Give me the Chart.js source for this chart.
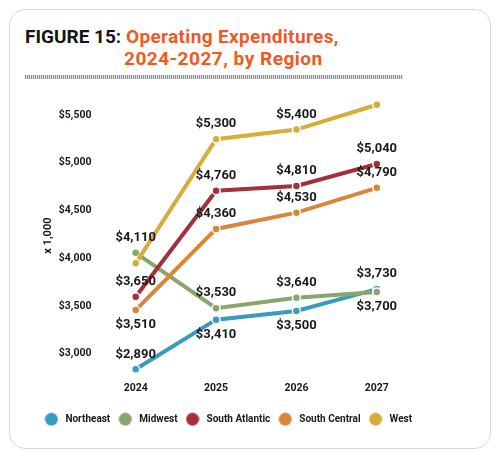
<!DOCTYPE html>
<html>
<head>
<meta charset="utf-8">
<script src="https://cdn.jsdelivr.net/npm/chart.js@4"></script>
<style>
  body { margin: 0; background: #fff; }
  #wrap { position: relative; width: 500px; height: 459px; overflow: hidden; }
  #card { position: absolute; left: 9px; top: 9px; width: 480px; height: 438px;
          border: 1px solid #d9d9d9; border-radius: 16px; }
  #title { position: absolute; left: 25px; top: 26px; font-family: Roboto, sans-serif;
           font-weight: 700; font-size: 19px; line-height: 22px; }
  #title .fig { color: #141414; }
  #title .or { color: #ef5a24; letter-spacing: 0.35px; }
  #title .l2 { color: #ef5a24; padding-left: 99px; letter-spacing: 0.5px; }
  #rule { position: absolute; left: 25px; top: 75px; width: 378px; height: 4px;
          background: repeating-linear-gradient(90deg, #8f8f8f 0 1px, #e2e2e2 1px 2px); }
  #chart { position: absolute; left: 0; top: 0; }
</style>
</head>
<body>
<div id="wrap">
  <div id="card"></div>
  <div id="title">
    <div class="l1"><span class="fig">FIGURE 15:</span> <span class="or">Operating Expenditures,</span></div>
    <div class="l2">2024-2027, by Region</div>
  </div>
  <div id="rule"></div>
  <canvas id="chart" width="500" height="459"></canvas>
</div>
<script>
var years = ["2024", "2025", "2026", "2027"];
var regions = ["Northeast", "Midwest", "South Atlantic", "South Central", "West"];
var colors = ["#3a9bc1", "#86a66b", "#a3303c", "#d8863a", "#d6ad3b"];

// values in $ thousands
var northeast = [2890, 3410, 3500, 3730];
var midwest = [4110, 3530, 3640, 3700];
var southAtlantic = [3650, 4760, 4810, 5040];
var southCentral = [3510, 4360, 4530, 4790];
var west = [4000, 5300, 5400, 5660];

var yTicks = [3000, 3500, 4000, 4500, 5000, 5500];

// where each value label sits: 'a' above, 'b' below, null = no label
var labelSide = [
  ['a', 'b', 'b', 'a'],
  ['a', 'a', 'a', 'b'],
  ['a', 'a', 'a', 'a'],
  ['b', 'a', 'a', 'a'],
  [null, 'a', 'a', null]
];

var series = [northeast, midwest, southAtlantic, southCentral, west];

function money(v) {
  return '$' + v.toLocaleString('en-US');
}

// round legend dots drawn on small canvases
function makeDot(color) {
  var c = document.createElement('canvas');
  c.width = 14; c.height = 14;
  var g = c.getContext('2d');
  g.fillStyle = color;
  g.beginPath();
  g.arc(7, 7, 6.5, 0, Math.PI * 2);
  g.fill();
  return c;
}
var dots = colors.map(makeDot);

var valueLabels = {
  id: 'valueLabels',
  afterDatasetsDraw: function(chart) {
    var ctx = chart.ctx;
    ctx.save();
    ctx.font = 'bold 13px Roboto';
    ctx.fillStyle = '#1a1a1a';
    ctx.textAlign = 'center';
    ctx.textBaseline = 'middle';
    chart.data.datasets.forEach(function(ds, i) {
      var meta = chart.getDatasetMeta(i);
      meta.data.forEach(function(pt, j) {
        var side = labelSide[i][j];
        if (!side) return;
        var dy = side == 'a' ? -15 : 15;
        ctx.fillText(money(ds.data[j]), pt.x, pt.y + dy);
      });
    });
    ctx.restore();
  }
};

Chart.defaults.font.family = 'Roboto';
Chart.defaults.color = '#1a1a1a';

var chart = new Chart(document.getElementById('chart'), {
  type: 'line',
  data: {
    labels: years,
    datasets: series.map(function(d, i) {
      return {
        label: regions[i],
        data: d,
        borderColor: colors[i],
        backgroundColor: colors[i],
        borderWidth: 4,
        tension: 0,
        pointRadius: 4,
        pointBorderWidth: 1.5,
        pointBorderColor: '#fff',
        pointBackgroundColor: colors[i],
        order: 5 - i
      };
    })
  },
  options: {
    responsive: false,
    animation: false,
    layout: { padding: { left: 20, right: 65.5, top: 93.3, bottom: 24.75 } },
    scales: {
      x: {
        offset: true,
        grid: { display: false, drawTicks: false },
        border: { display: false },
        ticks: { padding: 4, font: { size: 10.5, weight: 'bold' } },
        afterFit: function(s) { s.height = 30.35; }
      },
      y: {
        min: 2800,
        max: 5780,
        grid: { display: false, drawTicks: false },
        border: { display: false },
        afterBuildTicks: function(s) {
          s.ticks = yTicks.map(function(v) { return { value: v }; });
        },
        afterFit: function(s) { s.width = 75.5; },
        ticks: {
          padding: 4,
          labelOffset: -5,
          font: { size: 10.5, weight: 'bold' },
          callback: function(v) { return money(v); }
        },
        title: {
          display: true,
          text: 'x 1,000',
          padding: { top: 21.5, bottom: 4 },
          font: { size: 11, weight: 'bold' }
        }
      },
      // empty spacer on the right so the plot ends where the original does
      spacer: {
        type: 'linear',
        position: 'right',
        grid: { display: false, drawTicks: false },
        border: { display: false },
        ticks: { display: false },
        afterFit: function(s) { s.width = 17.5; }
      }
    },
    plugins: {
      legend: {
        position: 'bottom',
        labels: {
          usePointStyle: true,
          pointStyleWidth: 18,
          boxHeight: 10,
          padding: 6,
          font: { size: 10, weight: 'bold' },
          sort: function(a, b) { return a.datasetIndex - b.datasetIndex; },
          generateLabels: function(c) {
            var items = Chart.defaults.plugins.legend.labels.generateLabels(c);
            items.forEach(function(it) { it.pointStyle = dots[it.datasetIndex]; });
            return items;
          }
        }
      },
      tooltip: { enabled: false }
    }
  },
  plugins: [valueLabels]
});
</script>
</body>
</html>
